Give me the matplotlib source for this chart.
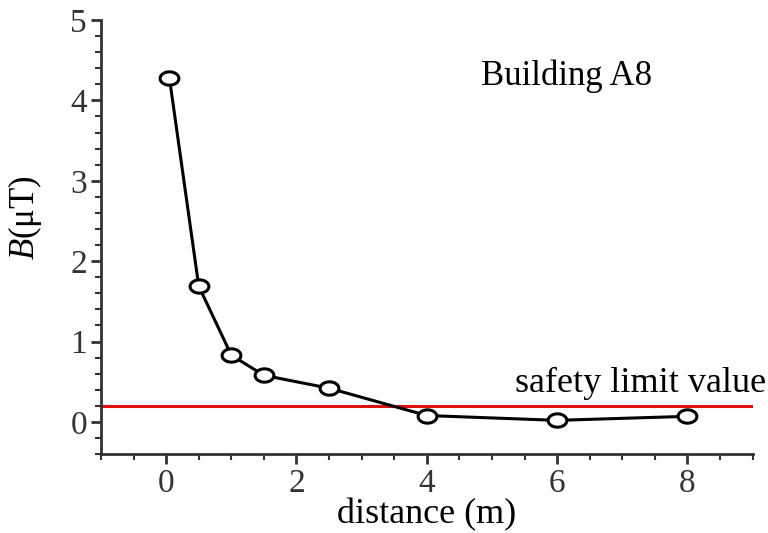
import numpy as np
import matplotlib.pyplot as plt
from matplotlib.path import Path
from matplotlib.ticker import MultipleLocator

# measured field vs distance
distance = [0.05, 0.5, 1.0, 1.5, 2.5, 4.0, 6.0, 8.0]
b_field = [4.28, 1.69, 0.83, 0.58, 0.42, 0.08, 0.02, 0.07]
safety_limit = 0.2

plt.rcParams['font.family'] = ['Liberation Serif', 'DejaVu Serif']
plt.rcParams['mathtext.fontset'] = 'custom'
plt.rcParams['mathtext.it'] = 'Liberation Serif:italic'
plt.rcParams['mathtext.rm'] = 'Liberation Serif'

# the original figure is stretched sideways, so the circles look like ellipses
t = np.linspace(0, 2 * np.pi, 60)
ellipse = Path(np.column_stack([np.cos(t), 0.71 * np.sin(t)]), closed=True)

fig = plt.figure(figsize=(7.68, 5.33), dpi=100)
ax = fig.add_axes([0.1315, 0.148, 0.8485, 0.8145])

ax.axhline(safety_limit, color='#e01010', linewidth=2.2, zorder=1)
ax.plot(distance, b_field, color='black', linewidth=2.2, marker=ellipse, markersize=13.5,
        markerfacecolor='white', markeredgecolor='black', markeredgewidth=2.2, zorder=3)

ax.set_xlim(-1, 9)
ax.set_ylim(-0.4, 5)
ax.xaxis.set_major_locator(MultipleLocator(2))
ax.xaxis.set_minor_locator(MultipleLocator(0.5))
ax.yaxis.set_major_locator(MultipleLocator(1))
ax.yaxis.set_minor_locator(MultipleLocator(0.2))

for s in ['top', 'right']:
    ax.spines[s].set_visible(False)
for s in ['left', 'bottom']:
    ax.spines[s].set_linewidth(2)
    ax.spines[s].set_color('#333333')

ax.tick_params(which='major', direction='out', length=7, width=2, labelsize=24,
               colors='#333333', pad=3)
ax.tick_params(which='minor', direction='out', length=4, width=1.5, colors='#333333')

ax.set_xlabel('distance (m)', fontsize=26, labelpad=0)
ax.set_ylabel(r'$B$(μT)', fontsize=25)
ax.yaxis.set_label_coords(-0.088, 0.545)

ax.text(6.15, 4.3, 'Building A8', fontsize=25, ha='center', va='center')
ax.text(9.2, 0.27, 'safety limit value', fontsize=26, ha='right', va='bottom', clip_on=False)

fig.savefig('out.png', dpi=100)
